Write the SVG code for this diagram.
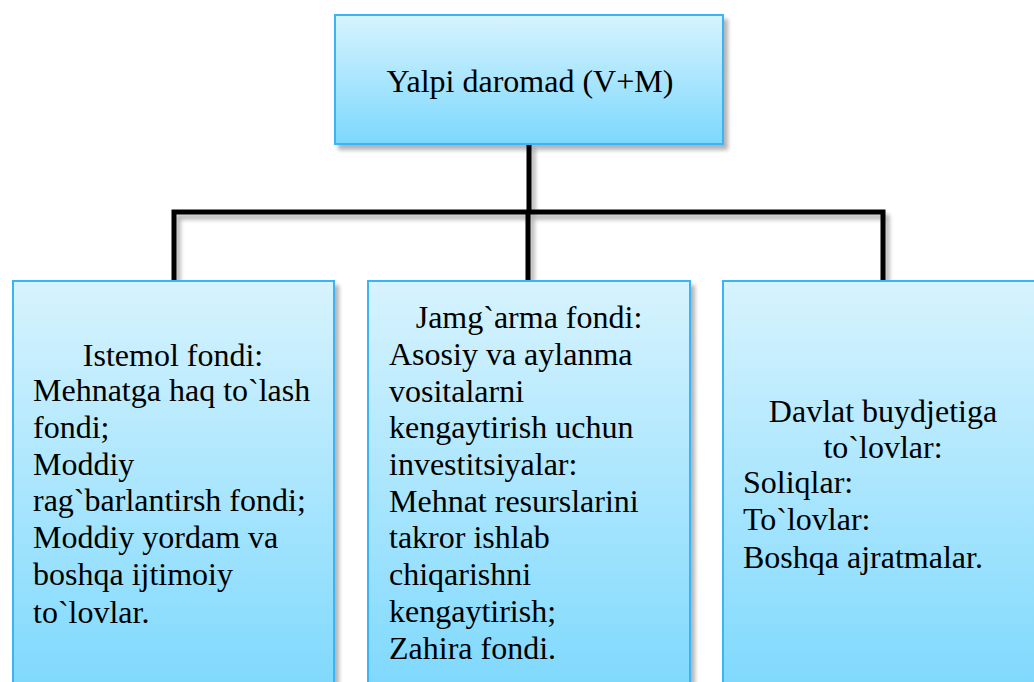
<svg xmlns="http://www.w3.org/2000/svg" width="1034" height="682" viewBox="0 0 1034 682">
<defs>
<linearGradient id="g" x1="0" y1="0" x2="0" y2="1">
<stop offset="0" stop-color="#D7F3FE"/>
<stop offset="1" stop-color="#7CD8FD"/>
</linearGradient>
<filter id="sh" x="-10%" y="-10%" width="130%" height="130%">
<feGaussianBlur in="SourceAlpha" stdDeviation="2"/>
<feOffset dx="4" dy="5" result="b"/>
<feComponentTransfer><feFuncA type="linear" slope="0.3"/></feComponentTransfer>
<feMerge><feMergeNode/><feMergeNode in="SourceGraphic"/></feMerge>
</filter>
</defs>
<style>
.box{fill:url(#g);stroke:#3BB3F4;stroke-width:2;filter:url(#sh)}
.t{font-family:'Liberation Serif','Times New Roman',serif;font-size:32px;fill:#000}
.c{text-anchor:middle}
.ln{stroke:#000;stroke-width:5;fill:none;filter:url(#sh)}
</style>
<g id="connectors">
<path class="ln" d="M529 144 V212 M174 280 V212 H883 V280 M528 212 V280"/>
</g>
<g id="top">
<rect class="box" x="335" y="15" width="388" height="129"/>
<text class="t c" x="530" y="92">Yalpi daromad (V+M)</text>
</g>
<g id="istemol">
<rect class="box" x="13" y="281" width="321" height="420"/>
<text class="t c" x="173" y="366">Istemol fondi:</text>
<text class="t" x="33" y="401">Mehnatga haq to`lash</text>
<text class="t" x="33" y="438">fondi;</text>
<text class="t" x="33" y="475">Moddiy</text>
<text class="t" x="33" y="511">rag`barlantirsh fondi;</text>
<text class="t" x="33" y="548">Moddiy yordam va</text>
<text class="t" x="33" y="585">boshqa ijtimoiy</text>
<text class="t" x="33" y="623">to`lovlar.</text>
</g>
<g id="jamgarma">
<rect class="box" x="368" y="281" width="322" height="420"/>
<text class="t c" x="529" y="328">Jamg`arma fondi:</text>
<text class="t" x="389" y="365">Asosiy va aylanma</text>
<text class="t" x="389" y="402">vositalarni</text>
<text class="t" x="389" y="438">kengaytirish uchun</text>
<text class="t" x="389" y="475">investitsiyalar:</text>
<text class="t" x="389" y="512">Mehnat resurslarini</text>
<text class="t" x="389" y="548">takror ishlab</text>
<text class="t" x="389" y="585">chiqarishni</text>
<text class="t" x="389" y="622">kengaytirish;</text>
<text class="t" x="389" y="659">Zahira fondi.</text>
</g>
<g id="davlat">
<rect class="box" x="723" y="281" width="320" height="420"/>
<text class="t c" x="883" y="422">Davlat buydjetiga</text>
<text class="t c" x="883" y="458">to`lovlar:</text>
<text class="t" x="743" y="493">Soliqlar:</text>
<text class="t" x="743" y="530">To`lovlar:</text>
<text class="t" x="743" y="568">Boshqa ajratmalar.</text>
</g>
</svg>
